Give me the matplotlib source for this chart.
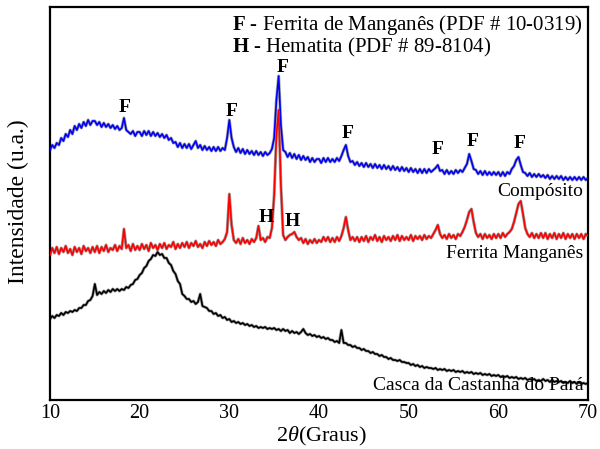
import numpy as np
import matplotlib
matplotlib.use("Agg")
import matplotlib.pyplot as plt

plt.rcParams["font.family"] = "serif"
plt.rcParams["font.serif"] = ["Liberation Serif", "DejaVu Serif"]
plt.rcParams["mathtext.fontset"] = "custom"
plt.rcParams["mathtext.rm"] = "Liberation Serif"
plt.rcParams["mathtext.it"] = "Liberation Serif:italic"
plt.rcParams["mathtext.bf"] = "Liberation Serif:bold"

# 2-theta sampling: 10° to 70° in 0.25° steps (241 points)
two_theta = np.linspace(10, 70, 241)

# Compósito (blue), offset on top
comp_int = [
    250, 255, 252, 257, 255, 262, 259, 266, 263, 270, 266, 274, 270, 276, 272, 278, 274, 280, 275, 279,  # 10-14.75
    279, 275, 278, 273, 277, 273, 276, 272, 275, 271, 274, 270, 272, 282, 270, 268, 266, 269, 264, 268,  # 15-19.75
    268, 264, 269, 265, 269, 264, 268, 264, 267, 263, 266, 262, 265, 260, 262, 257, 258, 253, 257, 252,  # 20-24.75
    256, 252, 256, 251, 255, 259, 252, 255, 250, 254, 250, 253, 249, 253, 249, 253, 249, 252, 250, 262,  # 25-29.75
    280, 262, 253, 248, 252, 247, 251, 246, 250, 246, 249, 245, 249, 245, 248, 244, 248, 245, 247, 251,  # 30-34.75
    262, 300, 324, 275, 250, 248, 243, 247, 242, 246, 241, 245, 240, 244, 240, 243, 238, 242, 238, 241,  # 35-39.75
    241, 237, 242, 238, 242, 238, 241, 238, 242, 239, 244, 250, 255, 244, 238, 239, 235, 238, 234, 237,  # 40-44.75
    233, 237, 233, 236, 232, 236, 232, 235, 231, 235, 231, 234, 230, 234, 230, 233, 229, 233, 229, 232,  # 45-49.75
    228, 232, 228, 231, 227, 231, 227, 231, 227, 231, 228, 230, 232, 235, 229, 230, 226, 230, 226, 229,  # 50-54.75
    226, 230, 227, 230, 228, 232, 236, 246, 239, 231, 230, 226, 229, 225, 229, 225, 228, 225, 228, 225,  # 55-59.75
    228, 224, 228, 224, 228, 226, 231, 234, 240, 243, 235, 228, 227, 224, 227, 223, 226, 223, 226, 223,  # 60-64.75
    225, 222, 225, 221, 224, 221, 224, 221, 224, 220, 223, 220, 223, 220, 223, 220, 223, 220, 223, 220,  # 65-69.75
    222,
]

# Ferrita Manganês (red), middle
ferr_int = [
    145, 152, 147, 153, 146, 152, 148, 154, 147, 151, 145, 153, 148, 152, 146, 154, 149, 152, 147, 153,
    148, 154, 147, 153, 149, 155, 148, 152, 150, 155, 149, 154, 151, 171, 152, 155, 149, 156, 150, 154,
    150, 156, 151, 155, 149, 157, 152, 155, 150, 156, 152, 157, 151, 155, 153, 158, 151, 156, 152, 157,
    153, 158, 152, 157, 154, 159, 153, 156, 152, 158, 154, 159, 155, 158, 154, 160, 156, 158, 161, 168,
    206, 175, 160, 157, 161, 156, 162, 157, 160, 156, 161, 158, 162, 174, 160, 162, 158, 163, 162, 172,
    205, 265, 290, 215, 165, 160, 163, 165, 166, 168, 163, 160, 162, 157, 161, 156, 160, 157, 161, 157,
    160, 158, 163, 159, 163, 158, 162, 158, 163, 159, 164, 172, 183, 170, 160, 163, 159, 163, 158, 163,
    159, 164, 158, 163, 160, 165, 159, 163, 158, 164, 160, 163, 159, 164, 160, 165, 159, 164, 160, 163,
    160, 165, 159, 164, 161, 164, 160, 165, 161, 164, 162, 166, 170, 175, 166, 162, 165, 161, 166, 162,
    165, 161, 166, 164, 168, 173, 180, 188, 191, 178, 167, 163, 166, 161, 166, 162, 165, 161, 166, 162,
    166, 162, 167, 163, 166, 168, 171, 178, 187, 196, 199, 186, 172, 166, 163, 167, 162, 166, 162, 167,
    162, 167, 161, 166, 162, 167, 161, 166, 162, 167, 161, 166, 162, 166, 161, 166, 162, 166, 161, 166,
    164,
]

# Casca da Castanha do Pará (black), bottom
casca_int = [
    81, 84, 82, 85, 84, 87, 85, 88, 87, 89, 88, 90, 89, 92, 92, 95, 95, 99, 100, 104,
    116, 105, 108, 106, 109, 107, 110, 108, 111, 109, 111, 109, 111, 110, 113, 112, 115, 116, 120, 121,
    125, 127, 132, 134, 139, 141, 145, 144, 148, 145, 146, 142, 142, 137, 135, 129, 126, 119, 116, 106,
    104, 101, 101, 98, 99, 96, 98, 106, 94, 93, 92, 89, 89, 86, 87, 84, 85, 82, 83, 80,
    81, 78, 79, 77, 78, 76, 77, 75, 76, 74, 75, 73, 74, 72, 73, 72, 73, 71, 72, 71,
    72, 70, 71, 69, 71, 69, 70, 67, 69, 67, 68, 66, 68, 71, 67, 65, 66, 64, 65, 63,
    64, 62, 63, 61, 62, 60, 60, 58, 59, 57, 70, 57, 57, 55, 55, 53, 54, 52, 52, 50,
    51, 49, 49, 47, 48, 46, 46, 44, 45, 43, 43, 41, 42, 40, 40, 39, 40, 38, 38, 37,
    37, 35, 36, 34, 35, 33, 34, 32, 33, 32, 32, 31, 32, 30, 31, 30, 31, 29, 30, 29,
    30, 28, 29, 28, 29, 27, 28, 27, 28, 26, 27, 26, 27, 25, 26, 25, 26, 24, 25, 24,
    25, 23, 24, 23, 24, 22, 23, 22, 23, 21, 22, 21, 22, 20, 21, 20, 21, 19, 20, 19,
    21, 19, 20, 18, 20, 18, 19, 18, 19, 17, 18, 17, 19, 17, 18, 16, 18, 16, 17, 16,
    17,
]

series = [(comp_int, "#0000ff"), (ferr_int, "#ff0000"), (casca_int, "#000000")]

series_labels = [("Compósito", 209), ("Ferrita Manganês", 147), ("Casca da Castanha do Pará", 15)]

peak_marks = [
    ("F", 18.35, 293), ("F", 30.2, 288), ("F", 35.9, 332), ("F", 43.2, 267),
    ("F", 53.2, 250), ("F", 57.1, 258), ("F", 62.4, 257),
    ("H", 34.1, 183), ("H", 37.0, 179),
]

phase_key = [
    r"$\mathbf{F}$ - Ferrita de Manganês (PDF # 10-0319)",
    r"$\mathbf{H}$ - Hematita (PDF # 89-8104)",
]

fig = plt.figure(figsize=(6.0, 4.49), dpi=100)
ax = fig.add_axes([50 / 600, 1 - 400 / 449, 538 / 600, 393 / 449])

for y, c in series:
    ax.plot(two_theta, y, color="#a0a0a0", lw=2.2, zorder=2)
    ax.plot(two_theta, y, color=c, lw=1.2, zorder=3)

ax.set_xlim(10, 70)
ax.set_ylim(0, 393)
ax.set_xticks([10, 20, 30, 40, 50, 60, 70])
ax.set_yticks([])
ax.tick_params(axis="x", length=0, labelsize=14.5, pad=3)
for s in ax.spines.values():
    s.set_linewidth(1.6)

fig.text(322 / 600, 1 - 436 / 449, r"2$\theta$(Graus)", ha="center", va="center", fontsize=16)
fig.text(18 / 600, 1 - 202 / 449, "Intensidade (u.a.)", rotation=90, ha="center", va="center", fontsize=17)

for txt, yv in series_labels:
    ax.text(69.5, yv, txt, ha="right", va="center", fontsize=14)

for lab, xv, yv in peak_marks:
    ax.text(xv, yv, lab, ha="center", va="center", fontsize=14, fontweight="bold")

ax.text(30.3, 375, phase_key[0], ha="left", va="center", fontsize=15)
ax.text(30.3, 353, phase_key[1], ha="left", va="center", fontsize=15)

fig.savefig("out.png", dpi=100)
